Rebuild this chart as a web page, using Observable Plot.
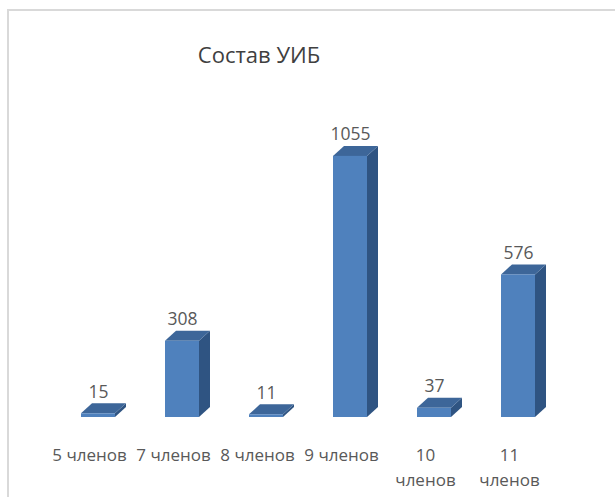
<!DOCTYPE html>
<html>
<head>
<meta charset="utf-8">
<script src="https://cdn.jsdelivr.net/npm/d3@7"></script>
<script src="https://cdn.jsdelivr.net/npm/@observablehq/plot@0.6"></script>
<style>
  html, body { margin: 0; padding: 0; background: #fff; overflow: hidden; }
  #wrap { position: relative; width: 615px; height: 497px; overflow: hidden; }
  #frame { position: absolute; left: 7px; top: 9px; width: 700px; height: 600px;
           border: 2px solid #d9d9d9; box-sizing: border-box; }
  #title { position: absolute; left: 109px; width: 300px; top: 43px; text-align: center;
           font-family: "Open Sans", sans-serif; font-size: 22px; line-height: 22px; color: #404040; }
  #chart { position: absolute; left: 0; top: 0; }
</style>
</head>
<body>
<div id="wrap">
  <div id="frame"></div>
  <div id="title">Состав УИБ</div>
  <div id="chart"></div>
</div>
<script>
const categories = ["5 членов", "7 членов", "8 членов", "9 членов", "10 членов", "11 членов"];
const values = [15, 308, 11, 1055, 37, 576];
const tickLabels = ["5 членов", "7 членов", "8 членов", "9 членов", "10\nчленов", "11\nчленов"];

const data = categories.map((c, i) => ({cat: c, value: values[i], label: tickLabels[i]}));

const FRONT = "#4f81bd", SIDE = "#2f5482", TOP = "#3d6699";
const DX = 11, DY = 10;

function faces(index, scales) {
  const x = scales.x, y = scales.y;
  const bw = x.bandwidth();
  const g = d3.create("svg:g");
  for (const d of data) {
    const xl = x(d.cat), xr = xl + bw, yt = y(d.value), yb = y(0);
    g.append("polygon")
      .attr("points", [[xr, yt], [xr + DX, yt - DY], [xr + DX, yb - DY], [xr, yb]].join(" "))
      .attr("fill", SIDE);
    g.append("polygon")
      .attr("points", [[xl, yt], [xr, yt], [xr + DX, yt - DY], [xl + DX, yt - DY]].join(" "))
      .attr("fill", TOP);
  }
  return g.node();
}

const chart = Plot.plot({
  width: 615,
  height: 497,
  marginLeft: 29,
  marginRight: 29,
  marginTop: 120,
  marginBottom: 80,
  style: {background: "transparent", fontFamily: "'Open Sans', sans-serif"},
  x: {domain: categories, padding: 0.6, axis: null},
  y: {domain: [0, 1200], axis: null},
  marks: [
    faces,
    Plot.barY(data, {x: "cat", y: "value", fill: FRONT}),
    Plot.text(data, {x: "cat", y: "value", text: d => String(d.value), lineAnchor: "bottom",
                     dy: -16, fontSize: 17.5, fill: "#595959"}),
    Plot.text(data, {x: "cat", y: () => 0, text: "label", lineAnchor: "top", dx: -9, dy: 26,
                     fontSize: 17, lineHeight: 1.47, fill: "#595959"})
  ]
});
document.getElementById("chart").appendChild(chart);
</script>
</body>
</html>
